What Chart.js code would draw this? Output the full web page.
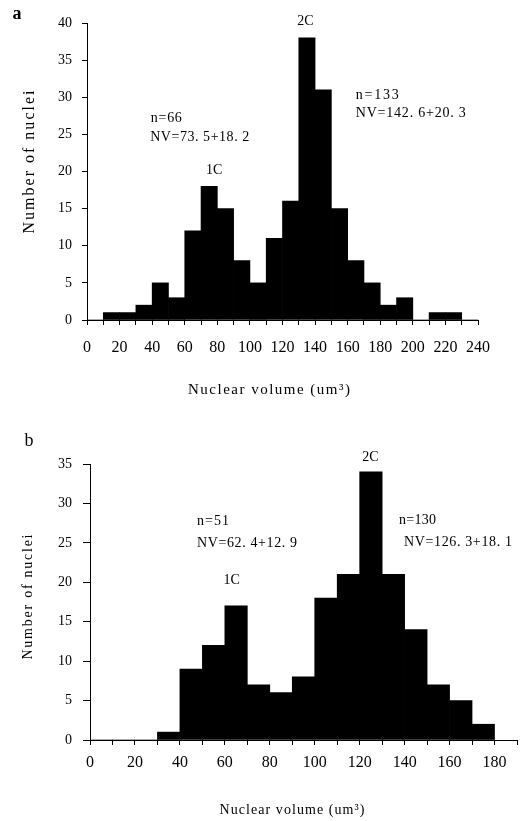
<!DOCTYPE html>
<html><head><meta charset="utf-8">
<script src="https://cdn.jsdelivr.net/npm/chart.js@4.4.1/dist/chart.umd.min.js"></script>
<style>
html,body{margin:0;padding:0;background:#fff;}
#wrap{position:relative;width:525px;height:821px;background:#fff;overflow:hidden;}
canvas{position:absolute;left:0;}
</style></head><body>
<div id="wrap">
<canvas id="ca" width="525" height="410" style="top:0px"></canvas>
<canvas id="cb" width="525" height="401" style="top:420px"></canvas>
</div>
<script>
// ---------- data ----------
const binWidth = 10;
const binStartsA = [0,10,20,30,40,50,60,70,80,90,100,110,120,130,140,150,160,170,180,190,200,210,220,230];
const countsA    = [0,1,1,2,5,3,12,18,15,8,5,11,16,38,31,15,8,5,2,3,0,1,1,0];
const xTickLabelsA = [0,20,40,60,80,100,120,140,160,180,200,220,240];
const yTicksA = [0,5,10,15,20,25,30,35,40];

const binStartsB = [0,10,20,30,40,50,60,70,80,90,100,110,120,130,140,150,160,170];
const countsB    = [0,0,0,1,9,12,17,7,6,8,18,21,34,21,14,7,5,2];
const xTickLabelsB = [0,20,40,60,80,100,120,140,160,180];
const yTicksB = [0,5,10,15,20,25,30,35];

const xTitle = "Nuclear volume (um\u00B3)";
const yTitle = "Number of nuclei";

// annotation texts anchored in data coordinates (x, y); w = printed width
const notesA = [
  {t:"n=66", x:39.2, y:27.2, align:"left", w:31},
  {t:"NV=73. 5+18. 2", x:38.8, y:24.6, align:"left", w:99},
  {t:"1C", x:78, y:20.2, align:"center"},
  {t:"2C", x:134, y:40.2, align:"center"},
  {t:"n=133", x:165, y:30.3, align:"left", w:43},
  {t:"NV=142. 6+20. 3", x:165, y:27.9, align:"left", w:110}
];
const notesB = [
  {t:"n=51", x:47.6, y:27.7, align:"left", w:32},
  {t:"NV=62. 4+12. 9", x:47.6, y:24.9, align:"left", w:100},
  {t:"1C", x:63, y:20.3, align:"center"},
  {t:"2C", x:124.8, y:35.8, align:"center"},
  {t:"n=130", x:137.5, y:27.8, align:"left", w:37},
  {t:"NV=126. 3+18. 1", x:139.7, y:25.1, align:"left", w:108}
];

// ---------- drawing ----------
function fitText(ctx, text, x, y, w, align){
  ctx.letterSpacing = '0px';
  const m = ctx.measureText(text).width;
  if (!w) w = m;
  const ls = (w - m) / Math.max(text.length - 1, 1);
  ctx.letterSpacing = ls + 'px';
  ctx.textAlign = 'left';
  ctx.fillText(text, align === 'center' ? x - w/2 : x, y);
  ctx.letterSpacing = '0px';
}

function textPlugin(cfg){
  return {
    id:'texts',
    afterDraw(chart){
      const ctx = chart.ctx, xs = chart.scales.x, ys = chart.scales.y;
      ctx.save();
      ctx.fillStyle = '#000';
      ctx.textBaseline = 'middle';
      ctx.font = cfg.letterFont;
      ctx.textAlign = 'center';
      ctx.fillText(cfg.letter, cfg.letterPos[0], cfg.letterPos[1]);
      ctx.font = cfg.noteFont;
      cfg.notes.forEach(n => {
        fitText(ctx, n.t, xs.getPixelForValue(n.x), ys.getPixelForValue(n.y), n.w, n.align);
      });
      ctx.font = cfg.xTitleFont;
      fitText(ctx, xTitle, cfg.xTitlePos[0], cfg.xTitlePos[1], cfg.xTitleW, 'center');
      ctx.font = cfg.yTitleFont;
      ctx.translate(cfg.yTitlePos[0], cfg.yTitlePos[1]);
      ctx.rotate(-Math.PI/2);
      fitText(ctx, yTitle, 0, 0, cfg.yTitleW, 'center');
      ctx.restore();
    }
  };
}

function makeChart(id, starts, counts, xMax, yMax, xLabels, yTicks, geom, cfg){
  const data = starts.map((s,i)=>({x:s+binWidth/2, y:counts[i]}));
  return new Chart(document.getElementById(id), {
    type:'bar',
    data:{datasets:[{data, backgroundColor:'#000', borderWidth:0,
      barPercentage:1, categoryPercentage:1}]},
    options:{
      responsive:false, animation:false, devicePixelRatio:1,
      layout:{padding:{left:0, right:geom.right, top:geom.top, bottom:0}},
      plugins:{legend:{display:false}, tooltip:{enabled:false}},
      scales:{
        x:{type:'linear', min:0, max:xMax, offset:false,
          ticks:{stepSize:10, autoSkip:false, maxRotation:0, color:'#000',
            padding:geom.xPad, font:{family:'Liberation Serif', size:16},
            callback:v => xLabels.includes(v) ? String(v) : ''},
          grid:{drawOnChartArea:false, drawTicks:true, tickLength:5, color:'#000', offset:false},
          border:{display:true, color:'#000', width:1},
          afterFit:s => { s.height = geom.xH; }
        },
        y:{min:0, max:yMax,
          afterBuildTicks:s => { s.ticks = yTicks.map(v=>({value:v})); },
          ticks:{color:'#000', padding:geom.yPad, font:{family:'Liberation Serif', size:14}},
          grid:{drawOnChartArea:false, drawTicks:true, tickLength:geom.yTick, color:'#000'},
          border:{display:true, color:'#000', width:1},
          afterFit:s => { s.width = geom.yW; }
        }
      }
    },
    plugins:[textPlugin(cfg)]
  });
}

makeChart('ca', binStartsA, countsA, 240, 40, xTickLabelsA, yTicksA,
  {right:47, top:23, xH:90, yW:87, xPad:13, yPad:10, yTick:5},
  {letter:'a', letterPos:[17,14], letterFont:'bold 18px "Liberation Serif"',
   notes:notesA, noteFont:'14px "Liberation Serif"',
   xTitlePos:[269,390], xTitleW:162, xTitleFont:'15px "Liberation Serif"',
   yTitlePos:[30,162], yTitleW:143, yTitleFont:'16px "Liberation Serif"'});

makeChart('cb', binStartsB, countsB, 190, 35, xTickLabelsB, yTicksB,
  {right:7, top:44, xH:81, yW:90, xPad:8, yPad:11, yTick:7},
  {letter:'b', letterPos:[29,21], letterFont:'18px "Liberation Serif"',
   notes:notesB, noteFont:'14px "Liberation Serif"',
   xTitlePos:[292,390], xTitleW:145, xTitleFont:'14px "Liberation Serif"',
   yTitlePos:[28,177], yTitleW:125, yTitleFont:'14px "Liberation Serif"'});
</script>
</body></html>
